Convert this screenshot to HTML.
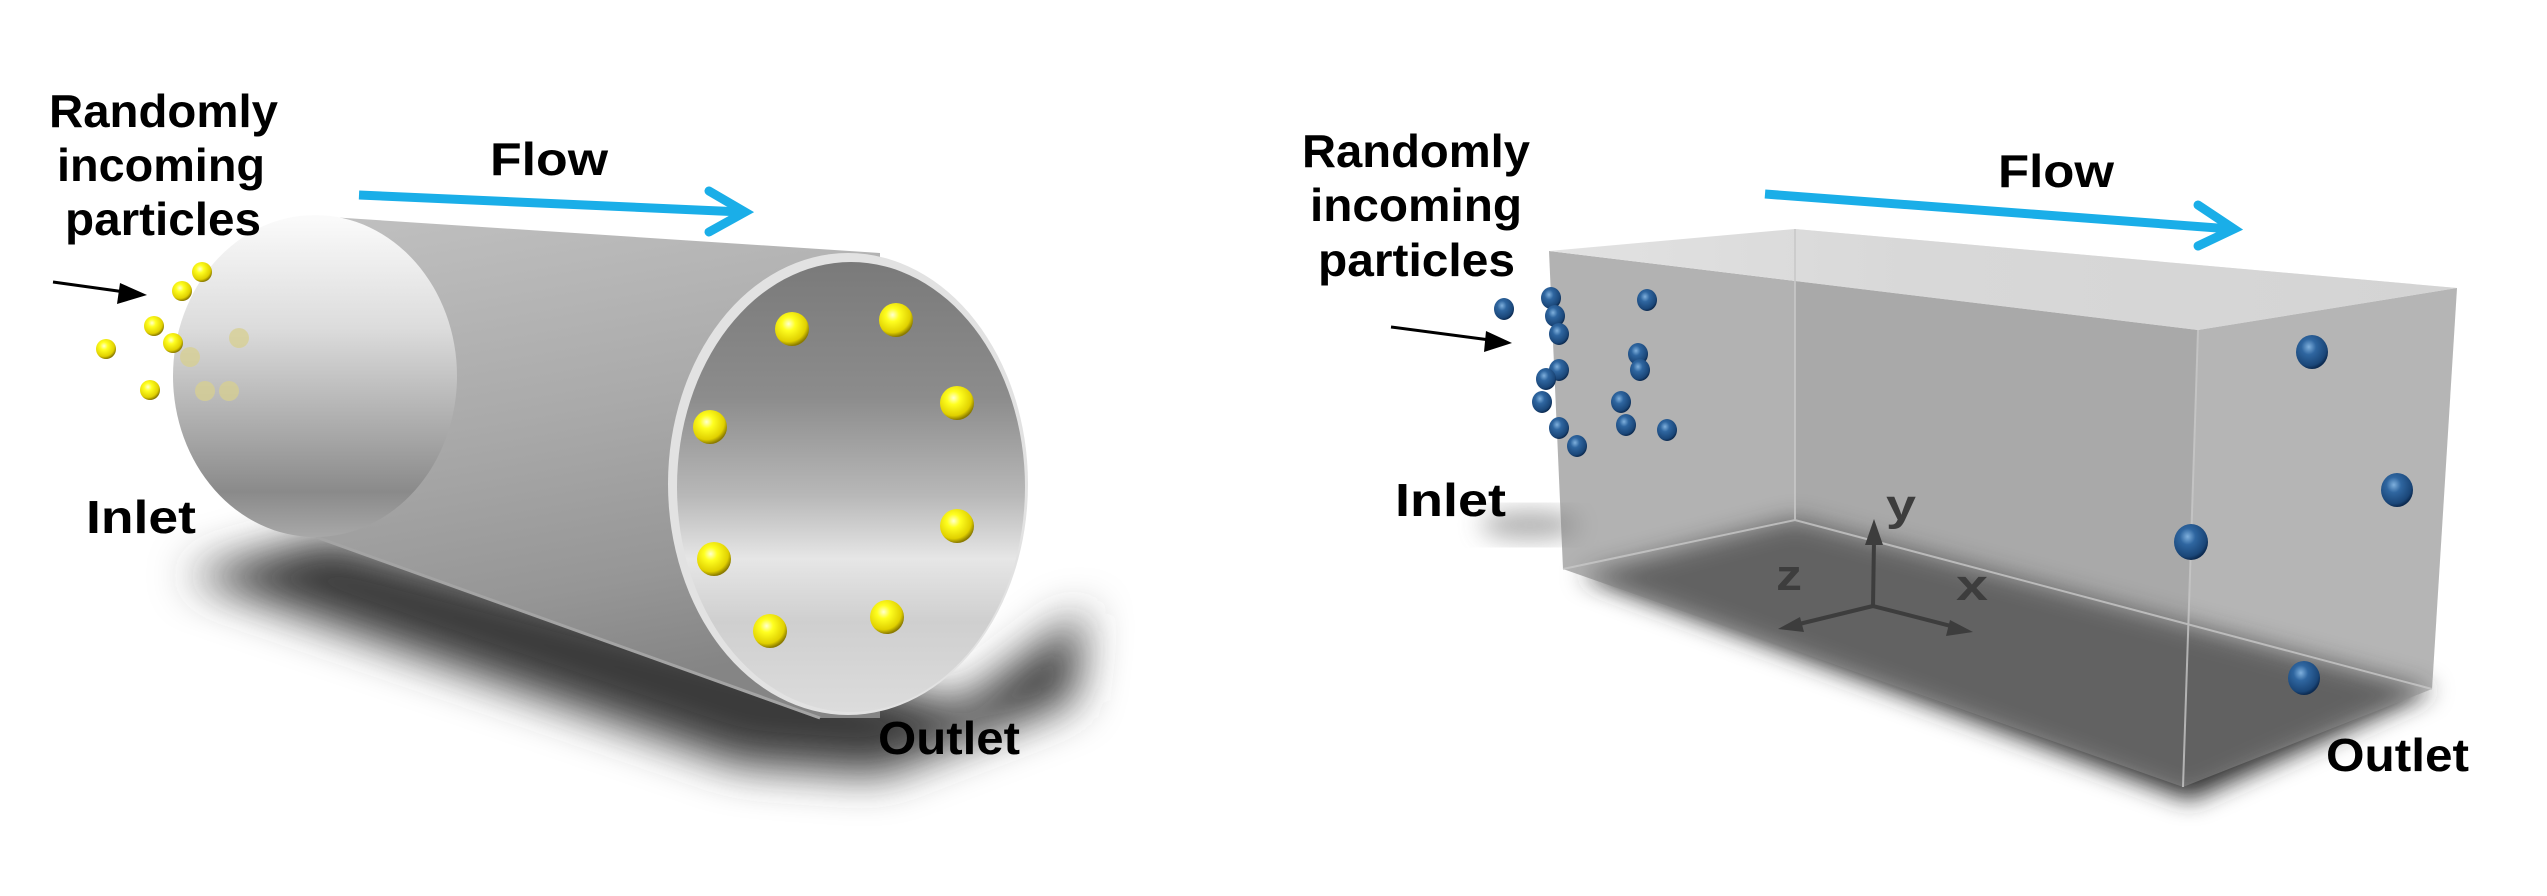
<!DOCTYPE html>
<html><head><meta charset="utf-8"><style>html,body{margin:0;padding:0;background:#fff}svg{display:block}</style></head>
<body>
<svg width="2547" height="896" viewBox="0 0 2547 896" xmlns="http://www.w3.org/2000/svg">
<defs>
<filter id="b25" x="-30%" y="-30%" width="160%" height="160%"><feGaussianBlur stdDeviation="22"/></filter>
<filter id="b12" x="-30%" y="-30%" width="160%" height="160%"><feGaussianBlur stdDeviation="12"/></filter>
<radialGradient id="yel" cx="0.4" cy="0.35" r="0.65"><stop offset="0" stop-color="#ffffd0"/><stop offset="0.3" stop-color="#ffff20"/><stop offset="0.8" stop-color="#e0d000"/><stop offset="1" stop-color="#8a7a00"/></radialGradient>
<radialGradient id="blu" cx="0.4" cy="0.35" r="0.65"><stop offset="0" stop-color="#7fb0dd"/><stop offset="0.35" stop-color="#2f66a0"/><stop offset="0.85" stop-color="#1a4678"/><stop offset="1" stop-color="#0c2a50"/></radialGradient>
<linearGradient id="body" x1="0" y1="0" x2="0.2" y2="1"><stop offset="0" stop-color="#c0c0c0"/><stop offset="0.45" stop-color="#aaaaaa"/><stop offset="0.8" stop-color="#969696"/><stop offset="1" stop-color="#858585"/></linearGradient>
<linearGradient id="inlet" x1="0" y1="0" x2="0" y2="1"><stop offset="0" stop-color="#fbfbfb"/><stop offset="0.35" stop-color="#dcdcdc"/><stop offset="0.7" stop-color="#a5a5a5"/><stop offset="0.86" stop-color="#8a8a8a"/><stop offset="1" stop-color="#a8a8a8"/></linearGradient>
<linearGradient id="outin" x1="0" y1="0" x2="0" y2="1"><stop offset="0" stop-color="#7a7a7a"/><stop offset="0.3" stop-color="#8c8c8c"/><stop offset="0.52" stop-color="#b8b8b8"/><stop offset="0.66" stop-color="#e6e6e6"/><stop offset="0.8" stop-color="#cfcfcf"/><stop offset="1" stop-color="#dcdcdc"/></linearGradient>
<linearGradient id="topf" x1="0" y1="0" x2="1" y2="0"><stop offset="0" stop-color="#e2e2e2"/><stop offset="0.4" stop-color="#d8d8d8"/><stop offset="1" stop-color="#d4d4d4"/></linearGradient>
</defs>

<polygon points="185,575 330,535 960,705 1085,610 1075,700 880,775 740,765" fill="#3a3a3a" filter="url(#b25)"/>
<path d="M330,217 L880,253 L880,718 L816,718 L316,537 Z" fill="url(#body)"/>
<line x1="316" y1="537" x2="820" y2="718" stroke="#a4a4a4" stroke-width="3"/>
<ellipse cx="848" cy="484" rx="180" ry="231" fill="#e2e2e2"/>
<ellipse cx="851" cy="487" rx="174" ry="225" fill="url(#outin)"/>
<ellipse cx="315" cy="376" rx="142" ry="161" fill="url(#inlet)"/>
<g fill="url(#yel)">
<circle cx="792" cy="329" r="17"/><circle cx="896" cy="320" r="17"/><circle cx="957" cy="403" r="17"/><circle cx="710" cy="427" r="17"/>
<circle cx="957" cy="526" r="17"/><circle cx="714" cy="559" r="17"/><circle cx="887" cy="617" r="17"/><circle cx="770" cy="631" r="17"/>
<circle cx="202" cy="272" r="10"/><circle cx="182" cy="291" r="10"/><circle cx="154" cy="326" r="10"/><circle cx="173" cy="343" r="10"/><circle cx="106" cy="349" r="10"/><circle cx="150" cy="390" r="10"/>
</g>
<g fill="#d8d090" opacity="0.75">
<circle cx="239" cy="338" r="10"/><circle cx="190" cy="357" r="10"/><circle cx="205" cy="391" r="10"/><circle cx="229" cy="391" r="10"/>
</g>
<line x1="359" y1="195" x2="742" y2="212" stroke="#1aaee8" stroke-width="9"/>
<polyline points="709,191 745,212 709,232" fill="none" stroke="#1aaee8" stroke-width="9" stroke-linecap="round"/>
<line x1="53" y1="282" x2="125" y2="292" stroke="#000" stroke-width="3"/>
<polygon points="147,295 120,283 117,304" fill="#000"/>
<g font-family="Liberation Sans, Arial, sans-serif" font-weight="bold" font-size="46" fill="#000">
<text x="49" y="127" textLength="229" lengthAdjust="spacingAndGlyphs">Randomly</text>
<text x="57" y="181" textLength="208" lengthAdjust="spacingAndGlyphs">incoming</text>
<text x="65" y="235" textLength="196" lengthAdjust="spacingAndGlyphs">particles</text>
<text x="490" y="175" textLength="118" lengthAdjust="spacingAndGlyphs">Flow</text>
<text x="86" y="533" textLength="110" lengthAdjust="spacingAndGlyphs">Inlet</text>
<text x="878" y="754" textLength="142" lengthAdjust="spacingAndGlyphs">Outlet</text>
</g>

<ellipse cx="1530" cy="525" rx="50" ry="14" fill="#777" opacity="0.6" filter="url(#b12)"/>
<polygon points="1795,229 2457,288 2432,689 1795,520" fill="#a0a0a0" opacity="0.25"/>
<polygon points="1580,575 1795,518 2434,690 2190,800" fill="#2e2e2e" filter="url(#b12)"/>
<polygon points="1549,251 2198,330 2183,787 1563,569" fill="#838383" fill-opacity="0.62"/>
<polygon points="2198,330 2457,288 2432,689 2183,787" fill="#8c8c8c" fill-opacity="0.55"/>
<polygon points="1549,251 1795,229 2457,288 2198,330" fill="url(#topf)"/>
<g stroke="#c8c8c8" stroke-width="2" fill="none" opacity="0.8">
<polyline points="1795,229 1795,520"/>
<polyline points="1563,569 1795,520 2432,689"/>
<polyline points="2198,330 2183,787"/>
</g>
<g stroke="#3d3d3d" stroke-width="4" fill="#3d3d3d">
<line x1="1873" y1="606" x2="1874" y2="540"/>
<line x1="1873" y1="606" x2="1795" y2="625"/>
<line x1="1873" y1="606" x2="1955" y2="627"/>
<polygon points="1874,519 1865,545 1883,545" stroke="none"/>
<polygon points="1778,629 1800,617 1804,632" stroke="none"/>
<polygon points="1973,632 1950,620 1946,636" stroke="none"/>
</g>
<g font-family="Liberation Sans, Arial, sans-serif" font-weight="bold" font-size="44" fill="#3d3d3d">
<text x="1886" y="520" textLength="30" lengthAdjust="spacingAndGlyphs">y</text>
<text x="1776" y="590" textLength="26" lengthAdjust="spacingAndGlyphs">z</text>
<text x="1956" y="600" textLength="32" lengthAdjust="spacingAndGlyphs">x</text>
</g>
<g fill="url(#blu)">
<ellipse cx="1504" cy="309" rx="10" ry="11"/><ellipse cx="1551" cy="298" rx="10" ry="11"/><ellipse cx="1555" cy="316" rx="10" ry="11"/><ellipse cx="1559" cy="334" rx="10" ry="11"/>
<ellipse cx="1647" cy="300" rx="10" ry="11"/><ellipse cx="1638" cy="354" rx="10" ry="11"/><ellipse cx="1640" cy="370" rx="10" ry="11"/><ellipse cx="1559" cy="370" rx="10" ry="11"/>
<ellipse cx="1546" cy="379" rx="10" ry="11"/><ellipse cx="1542" cy="402" rx="10" ry="11"/><ellipse cx="1621" cy="402" rx="10" ry="11"/><ellipse cx="1626" cy="425" rx="10" ry="11"/>
<ellipse cx="1667" cy="430" rx="10" ry="11"/><ellipse cx="1559" cy="428" rx="10" ry="11"/><ellipse cx="1577" cy="446" rx="10" ry="11"/>
<ellipse cx="2312" cy="352" rx="16" ry="17"/><ellipse cx="2397" cy="490" rx="16" ry="17"/><ellipse cx="2191" cy="542" rx="17" ry="18"/><ellipse cx="2304" cy="678" rx="16" ry="17"/>
</g>
<line x1="1765" y1="194" x2="2231" y2="229" stroke="#1aaee8" stroke-width="9"/>
<polyline points="2198,205 2234,229 2198,246" fill="none" stroke="#1aaee8" stroke-width="9" stroke-linecap="round"/>
<line x1="1391" y1="327" x2="1490" y2="340" stroke="#000" stroke-width="3"/>
<polygon points="1512,343 1486,331 1484,352" fill="#000"/>
<g font-family="Liberation Sans, Arial, sans-serif" font-weight="bold" font-size="46" fill="#000">
<text x="1302" y="167" textLength="228" lengthAdjust="spacingAndGlyphs">Randomly</text>
<text x="1310" y="221" textLength="212" lengthAdjust="spacingAndGlyphs">incoming</text>
<text x="1318" y="276" textLength="197" lengthAdjust="spacingAndGlyphs">particles</text>
<text x="1998" y="187" textLength="116" lengthAdjust="spacingAndGlyphs">Flow</text>
<text x="1395" y="516" textLength="111" lengthAdjust="spacingAndGlyphs">Inlet</text>
<text x="2326" y="771" textLength="143" lengthAdjust="spacingAndGlyphs">Outlet</text>
</g>
</svg>
</body></html>
